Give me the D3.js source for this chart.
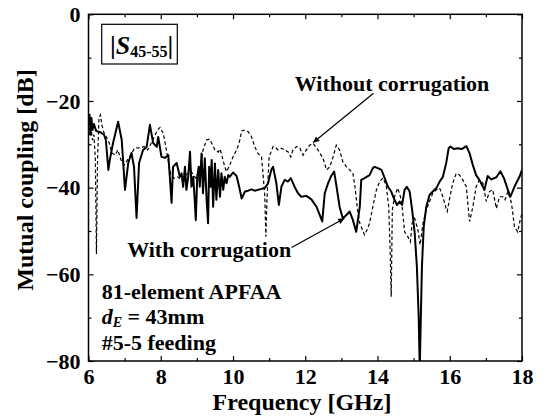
<!DOCTYPE html>
<html>
<head>
<meta charset="utf-8">
<script src="https://cdn.jsdelivr.net/npm/d3@7"></script>
<style>
  html, body { margin: 0; padding: 0; background: #fff; }
  svg { display: block; }
  text { font-family: 'Liberation Serif', 'Times New Roman', Times, serif; font-weight: bold; fill: #000; }
</style>
</head>
<body>
<svg id="chart" width="550" height="419"></svg>
<script>
// Mutual coupling |S45-55| of the 81-element APFAA, [frequency GHz, dB]
const withCorrugation = [
  [6.00,-25.5],[6.03,-23.2],[6.055,-27.8],[6.08,-23.9],[6.11,-26.7],[6.15,-25.3],[6.21,-26.9],
  [6.32,-27.2],[6.43,-27.8],[6.48,-29.0],[6.55,-35.9],[6.59,-33.6],[6.68,-29.7],[6.82,-24.8],
  [6.92,-29.0],[7.01,-40.5],[7.10,-34.3],[7.19,-32.0],[7.26,-35.2],[7.33,-47.0],[7.40,-34.3],
  [7.51,-31.3],[7.61,-30.6],[7.70,-25.5],[7.79,-29.7],[7.89,-30.6],[7.93,-28.3],[8.02,-32.9],
  [8.12,-33.1],[8.21,-32.5],[8.30,-43.5],[8.34,-35.2],[8.44,-34.3],[8.53,-37.5],[8.577,-36.7],
  [8.62,-39.8],[8.67,-35.2],[8.71,-40.5],[8.76,-37.5],[8.81,-31.7],[8.85,-39.8],[8.90,-37.5],
  [8.94,-42.8],[8.97,-47.5],[9.01,-37.5],[9.05,-35.2],[9.08,-39.8],[9.13,-32.1],[9.17,-41.3],
  [9.22,-33.2],[9.27,-42.8],[9.31,-48.2],[9.34,-35.2],[9.38,-39.8],[9.41,-33.6],[9.45,-44.4],
  [9.50,-34.4],[9.54,-42.8],[9.59,-35.9],[9.64,-42.1],[9.68,-36.7],[9.73,-40.5],[9.77,-37.5],
  [9.82,-39.0],[9.87,-37.1],[9.91,-37.5],[10.00,-36.5],[10.10,-37.3],[10.17,-39.8],[10.24,-42.5],
  [10.33,-40.9],[10.42,-40.7],[10.51,-40.4],[10.60,-40.7],[10.74,-40.4],[10.88,-40.1],[10.97,-39.0],
  [11.06,-35.9],[11.11,-35.2],[11.20,-39.0],[11.27,-44.0],[11.34,-39.8],[11.43,-38.2],[11.52,-38.6],
  [11.60,-37.8],[11.71,-39.9],[11.80,-41.3],[11.89,-42.1],[12.03,-41.9],[12.17,-42.7],[12.31,-44.4],
  [12.40,-46.3],[12.47,-47.8],[12.54,-41.3],[12.63,-39.0],[12.72,-37.3],[12.80,-36.3],[12.86,-39.4],
  [12.95,-44.4],[13.04,-47.1],[13.14,-46.3],[13.23,-45.5],[13.32,-47.5],[13.41,-50.2],[13.51,-44.4],
  [13.55,-38.2],[13.64,-37.8],[13.78,-37.1],[13.87,-35.5],[13.92,-35.2],[14.01,-35.5],[14.11,-35.9],
  [14.20,-37.8],[14.29,-39.8],[14.38,-40.9],[14.47,-42.8],[14.54,-44.0],[14.61,-43.2],[14.68,-44.0],
  [14.75,-40.5],[14.81,-39.8],[14.89,-40.9],[14.96,-45.2],[15.03,-50.5],[15.09,-58.2],[15.14,-69.8],
  [15.17,-82.0],[15.19,-73.6],[15.23,-58.2],[15.28,-49.0],[15.35,-44.4],[15.44,-41.7],[15.53,-40.9],
  [15.63,-40.1],[15.72,-38.6],[15.81,-37.5],[15.90,-34.4],[15.97,-30.9],[16.02,-30.5],[16.11,-31.1],
  [16.22,-30.9],[16.33,-31.1],[16.46,-30.4],[16.55,-32.1],[16.64,-34.8],[16.73,-37.1],[16.82,-38.2],
  [16.96,-40.5],[17.05,-37.3],[17.15,-38.1],[17.29,-37.6],[17.40,-36.2],[17.50,-37.8],[17.61,-40.5],
  [17.68,-42.1],[17.79,-39.8],[17.93,-37.5],[18.00,-35.9]
];

const withoutCorrugation = [
  [6.00,-24.9],[6.03,-27.8],[6.07,-26.2],[6.11,-29.0],[6.15,-27.8],[6.19,-33.6],[6.22,-55.3],
  [6.25,-33.6],[6.29,-23.9],[6.33,-23.2],[6.37,-25.5],[6.43,-27.4],[6.48,-28.1],[6.58,-29.8],
  [6.65,-32.0],[6.74,-32.5],[6.81,-31.3],[6.90,-33.6],[6.99,-34.8],[7.08,-33.6],[7.17,-32.5],
  [7.27,-30.9],[7.36,-30.8],[7.45,-30.8],[7.54,-30.5],[7.64,-31.3],[7.73,-29.8],[7.82,-28.2],
  [7.91,-26.7],[7.98,-26.1],[8.07,-27.5],[8.14,-30.5],[8.22,-34.4],[8.28,-37.1],[8.37,-37.8],
  [8.47,-37.5],[8.56,-38.2],[8.70,-37.1],[8.83,-36.2],[8.97,-37.8],[9.08,-35.9],[9.17,-31.3],
  [9.27,-29.0],[9.34,-28.8],[9.41,-29.7],[9.50,-31.3],[9.59,-31.8],[9.64,-31.1],[9.69,-32.5],
  [9.76,-34.8],[9.82,-36.3],[9.91,-34.8],[10.00,-32.9],[10.10,-31.3],[10.17,-29.7],[10.24,-26.9],
  [10.33,-26.7],[10.42,-27.1],[10.51,-28.2],[10.60,-30.5],[10.69,-32.1],[10.79,-32.9],[10.83,-36.6],
  [10.88,-42.1],[10.91,-51.3],[10.94,-42.8],[11.00,-32.9],[11.11,-30.5],[11.20,-30.9],[11.25,-31.3],
  [11.34,-30.9],[11.43,-31.3],[11.52,-31.7],[11.60,-32.9],[11.66,-31.3],[11.76,-30.5],[11.85,-30.9],
  [11.94,-32.5],[12.03,-31.3],[12.12,-30.2],[12.22,-29.8],[12.35,-31.3],[12.49,-33.2],[12.59,-35.9],
  [12.68,-35.2],[12.77,-32.9],[12.86,-30.2],[12.95,-31.3],[13.04,-34.0],[13.14,-35.2],[13.23,-35.9],
  [13.32,-36.7],[13.37,-39.4],[13.45,-45.2],[13.51,-48.2],[13.64,-50.9],[13.73,-49.4],[13.78,-48.2],
  [13.87,-44.4],[13.97,-40.5],[14.06,-38.6],[14.15,-37.8],[14.24,-39.4],[14.31,-44.4],[14.35,-54.4],
  [14.38,-65.2],[14.41,-45.2],[14.47,-42.1],[14.56,-40.1],[14.66,-42.8],[14.70,-45.9],[14.75,-50.2],
  [14.84,-51.3],[14.91,-52.5],[14.96,-48.2],[15.03,-47.1],[15.12,-49.8],[15.18,-53.2],[15.26,-48.2],
  [15.35,-45.2],[15.44,-43.2],[15.53,-41.3],[15.63,-40.5],[15.72,-40.1],[15.81,-42.1],[15.90,-44.8],
  [15.93,-45.5],[15.99,-42.8],[16.08,-39.0],[16.18,-36.7],[16.27,-37.1],[16.36,-38.2],[16.46,-39.8],
  [16.50,-43.6],[16.55,-47.8],[16.64,-44.4],[16.73,-39.8],[16.82,-38.2],[16.92,-39.0],[17.01,-43.2],
  [17.10,-40.9],[17.19,-40.5],[17.29,-44.8],[17.38,-42.1],[17.47,-42.1],[17.53,-42.8],[17.61,-40.9],
  [17.71,-43.6],[17.79,-49.0],[17.88,-50.2],[17.95,-47.5],[18.00,-45.9]
];

const xTicks = [6, 8, 10, 12, 14, 16, 18];
const xMinorTicks = [7, 9, 11, 13, 15, 17];
const yTicks = [0, -20, -40, -60, -80];
const yMinorTicks = [-10, -30, -50, -70];

const xTitle = "Frequency [GHz]";
const yTitle = "Mutual coupling [dB]";

const svg = d3.select("#chart");
const plotL = 88.5, plotR = 522, plotT = 14.3, plotB = 361;

const x = d3.scaleLinear().domain([6, 18]).range([plotL, plotR]);
const y = d3.scaleLinear().domain([-80, 0]).range([plotB, plotT]);

const defs = svg.append("defs");
defs.append("clipPath").attr("id", "plotClip")
  .append("rect").attr("x", plotL).attr("y", plotT).attr("width", plotR - plotL).attr("height", plotB - plotT);

// arrow head
defs.append("marker")
  .attr("id", "arrowHead").attr("viewBox", "0 0 10 10")
  .attr("refX", 10).attr("refY", 5)
  .attr("markerWidth", 9).attr("markerHeight", 6)
  .attr("markerUnits", "userSpaceOnUse")
  .attr("orient", "auto")
  .append("path").attr("d", "M0,0 L10,5 L0,10 z").attr("fill", "#000");

const line = d3.line().x(d => x(d[0])).y(d => y(d[1]));

const curves = svg.append("g").attr("clip-path", "url(#plotClip)");
curves.append("path").datum(withoutCorrugation)
  .attr("d", line).attr("fill", "none").attr("stroke", "#000")
  .attr("stroke-width", 1.2).attr("stroke-dasharray", "3.5,2.5");
curves.append("path").datum(withCorrugation)
  .attr("d", line).attr("fill", "none").attr("stroke", "#000")
  .attr("stroke-width", 2).attr("stroke-linejoin", "round");

// tick marks pointing inward on all four sides
function tickAxis(axisFn, scale, values, size, transform) {
  const g = svg.append("g").attr("transform", transform)
    .call(axisFn(scale).tickValues(values).tickSize(size).tickFormat(""));
  g.select(".domain").remove();
  g.selectAll(".tick line").attr("stroke", "#000").attr("stroke-width", 1.2);
}
tickAxis(d3.axisBottom, x, xTicks, -5, `translate(0,${plotB})`);
tickAxis(d3.axisBottom, x, xMinorTicks, -3, `translate(0,${plotB})`);
tickAxis(d3.axisTop, x, xTicks, -5, `translate(0,${plotT})`);
tickAxis(d3.axisTop, x, xMinorTicks, -3, `translate(0,${plotT})`);
tickAxis(d3.axisLeft, y, yTicks, -5, `translate(${plotL},0)`);
tickAxis(d3.axisLeft, y, yMinorTicks, -3, `translate(${plotL},0)`);
tickAxis(d3.axisRight, y, yTicks, -5, `translate(${plotR},0)`);
tickAxis(d3.axisRight, y, yMinorTicks, -3, `translate(${plotR},0)`);

// tick labels
const xLab = svg.append("g").attr("transform", `translate(0,${plotB})`)
  .call(d3.axisBottom(x).tickValues(xTicks).tickSize(0).tickPadding(7).tickFormat(d3.format("d")));
xLab.select(".domain").remove();
xLab.selectAll("text").attr("font-size", 22).attr("fill", "#000");

const yLab = svg.append("g").attr("transform", `translate(${plotL},0)`)
  .call(d3.axisLeft(y).tickValues(yTicks).tickSize(0).tickPadding(8).tickFormat(d3.format("d")));
yLab.select(".domain").remove();
yLab.selectAll("text").attr("font-size", 22).attr("fill", "#000");
xLab.attr("font-family", null).attr("font-size", null);
yLab.attr("font-family", null).attr("font-size", null);

// frame
svg.append("rect").attr("x", plotL).attr("y", plotT)
  .attr("width", plotR - plotL).attr("height", plotB - plotT)
  .attr("fill", "none").attr("stroke", "#000").attr("stroke-width", 1.5);

// axis titles
svg.append("text").attr("x", 302).attr("y", 410)
  .attr("text-anchor", "middle").attr("font-size", 24).text(xTitle);
svg.append("text").attr("transform", "translate(33,180) rotate(-90)")
  .attr("text-anchor", "middle").attr("font-size", 24).text(yTitle);

// parameter label box
svg.append("rect").attr("x", 101.7).attr("y", 24.3).attr("width", 75.6).attr("height", 39.7)
  .attr("fill", "#fff").attr("stroke", "#000").attr("stroke-width", 1.2);
const sLab = svg.append("text").attr("x", 110).attr("y", 53.5).attr("font-size", 26);
sLab.append("tspan").text("|");
sLab.append("tspan").attr("font-style", "italic").text("S");
sLab.append("tspan").attr("font-size", 16).attr("dy", 3).text("45-55");
sLab.append("tspan").attr("dy", -3).text("|");

// curve annotations
svg.append("text").attr("x", x(11.71)).attr("y", y(-17.6)).attr("font-size", 22).text("Without corrugation");
svg.append("line")
  .attr("x1", x(13.89)).attr("y1", y(-18.2)).attr("x2", x(12.22)).attr("y2", y(-29.6))
  .attr("stroke", "#000").attr("stroke-width", 1.2).attr("marker-end", "url(#arrowHead)");

svg.append("text").attr("x", x(7.07)).attr("y", y(-55.9)).attr("font-size", 22).text("With corrugation");
svg.append("line")
  .attr("x1", x(11.62)).attr("y1", y(-53.8)).attr("x2", x(13.08)).attr("y2", y(-47.1))
  .attr("stroke", "#000").attr("stroke-width", 1.2).attr("marker-end", "url(#arrowHead)");

// array description
svg.append("text").attr("x", 101.7).attr("y", 299.3).attr("font-size", 22).text("81-element APFAA");
const dLab = svg.append("text").attr("x", 101.7).attr("y", 324).attr("font-size", 22);
dLab.append("tspan").attr("font-style", "italic").text("d");
dLab.append("tspan").attr("font-style", "italic").attr("font-size", 14).attr("dy", 3).text("E");
dLab.append("tspan").attr("dy", -3).text(" = 43mm");
svg.append("text").attr("x", 101.7).attr("y", 350).attr("font-size", 22).text("#5-5 feeding");
</script>
</body>
</html>
